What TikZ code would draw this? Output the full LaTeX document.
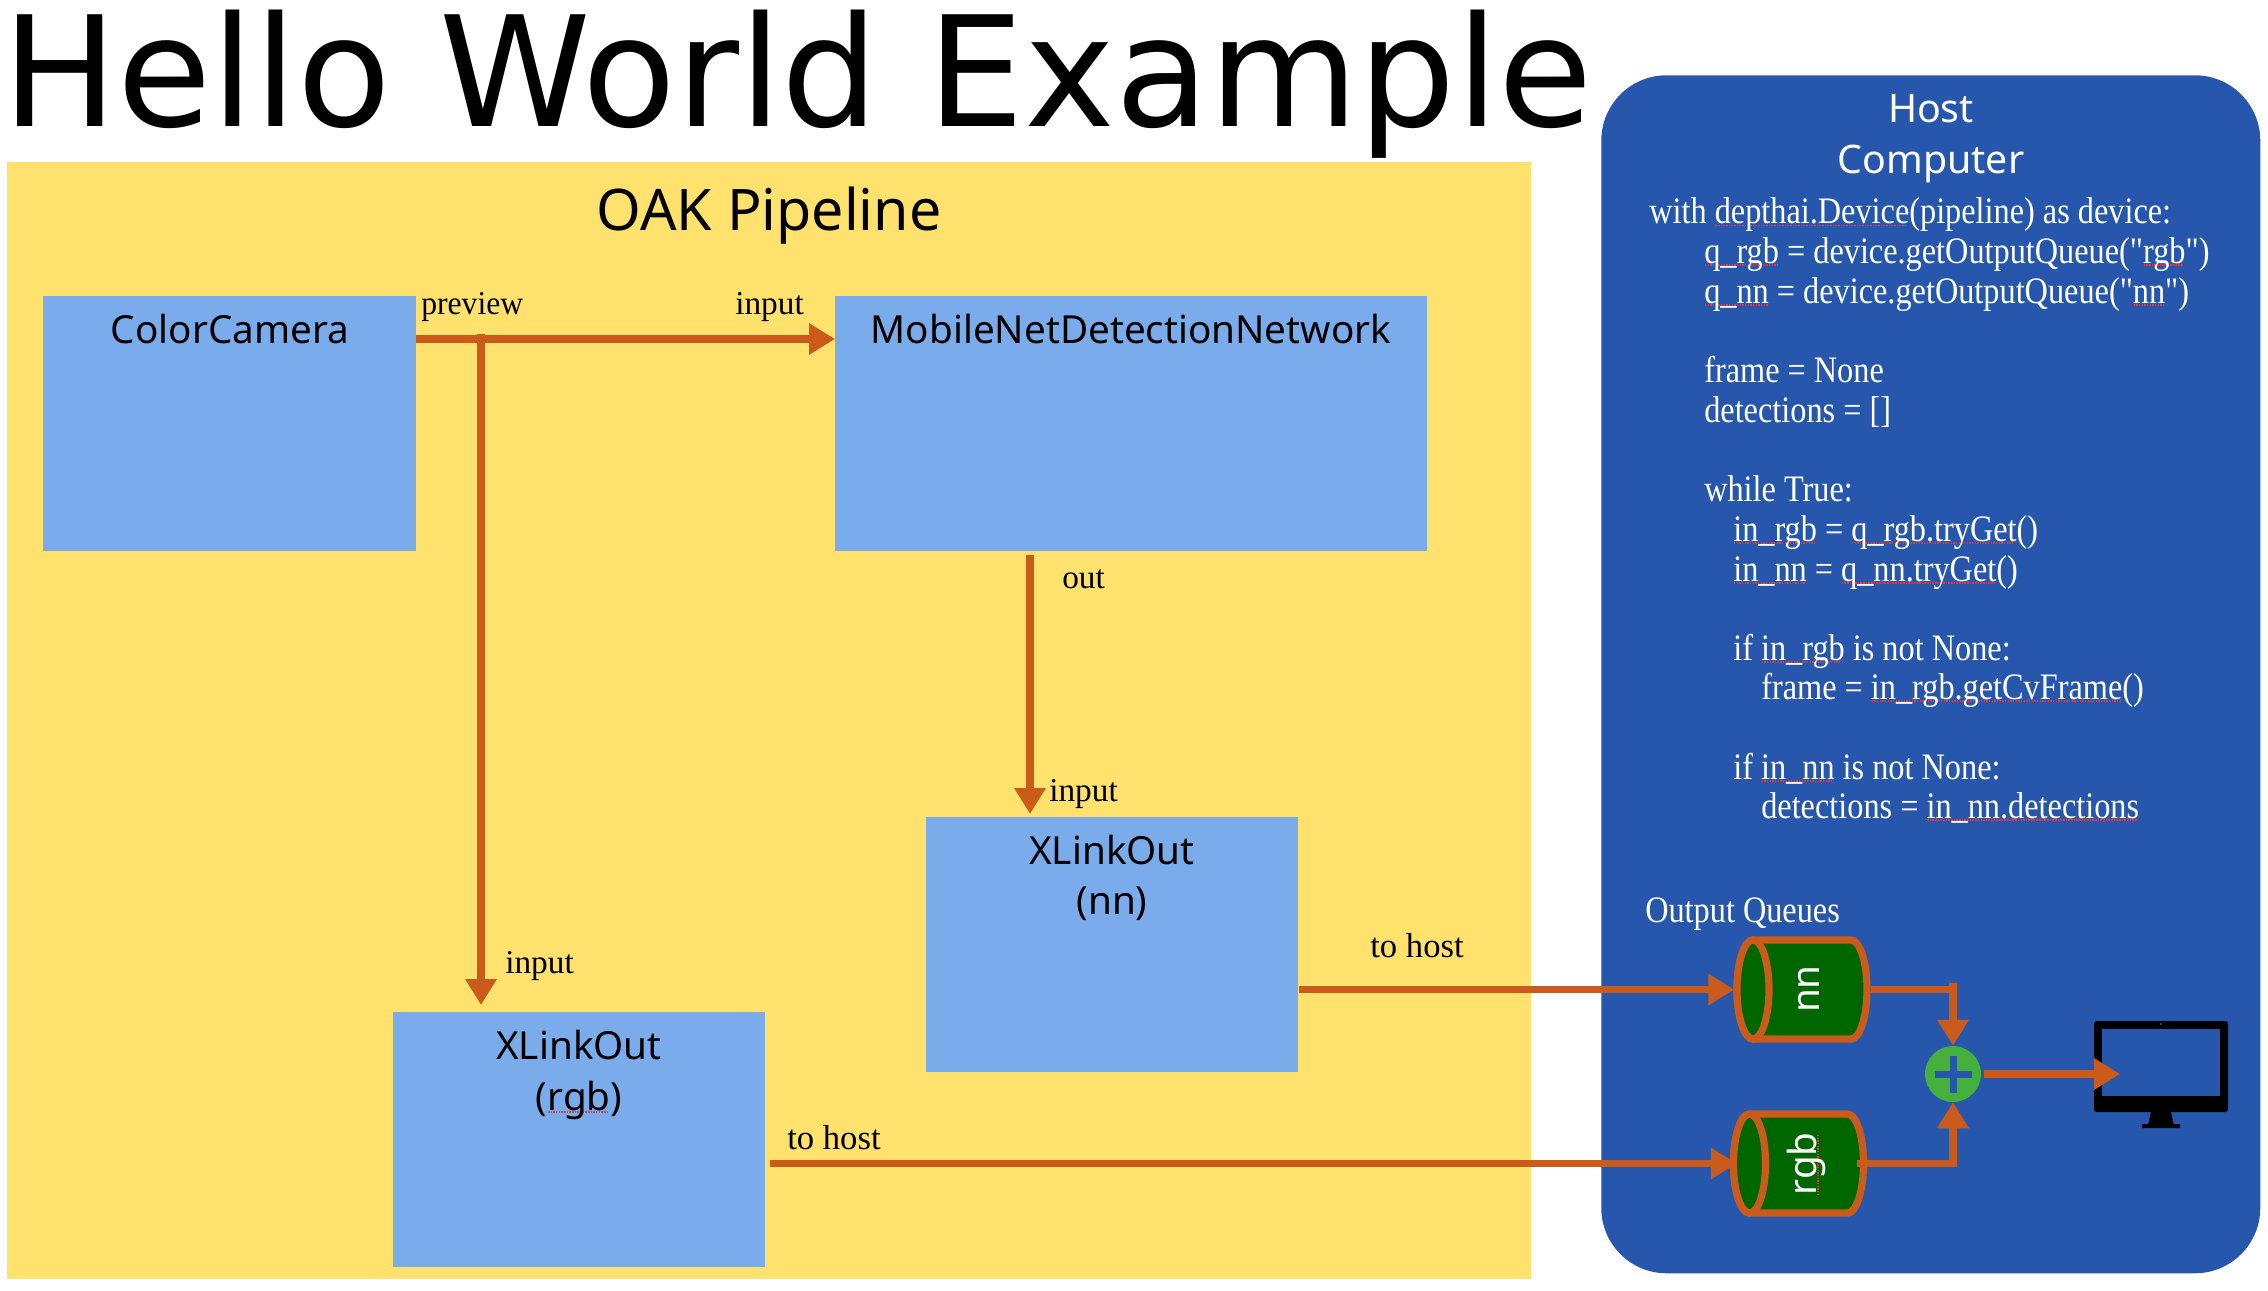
\documentclass[tikz,border=0pt]{standalone}
\usepackage{fontspec}
\usetikzlibrary{arrows.meta,calc}
\setmainfont{Liberation Serif}
\newfontfamily\titlefont{DejaVu Sans}
\newfontfamily\headfont{Noto Sans}
\newfontfamily\codefont[FakeStretch=0.865]{Liberation Serif}
\newfontfamily\labelfont{Liberation Serif}
\newfontfamily\labelnarrow[FakeStretch=0.95]{Liberation Serif}
\definecolor{panelyellow}{HTML}{FFE26E}
\definecolor{boxblue}{HTML}{7AABEB}
\definecolor{hostblue}{HTML}{2757AD}
\definecolor{wire}{HTML}{CA5B1B}
\definecolor{queuegreen}{HTML}{006600}
\definecolor{plusgreen}{HTML}{46B03C}
\definecolor{squiggle}{HTML}{E8383C}
\newcommand{\sq}[1]{\setbox0\hbox{#1}\rlap{\raisebox{-2pt}{\hbox to\wd0{\color{squiggle}\leaders\hbox to 2pt{\hss\rule{1.1pt}{1.1pt}\hss}\hfill}}}\box0{}}
\tikzset{
  x=0.75pt,y=-0.75pt,
  box/.style={fill=boxblue,draw=none,inner sep=0,minimum width=#1*0.75pt},
  box/.default=373,
  head/.style={anchor=base,font=\headfont\fontsize{29}{34}\selectfont,inner sep=0},
  code/.style={anchor=base west,text=white,inner sep=0,font=\codefont\fontsize{28}{32}\selectfont},
  lab/.style={anchor=base west,inner sep=0,font=\labelfont\fontsize{25}{30}\selectfont},
  wireline/.style={draw=wire,line width=5.6pt},
  arrowline/.style={wireline,-{Triangle[length=19.5pt,width=22.5pt]}},
  queue/.style={draw=wire,fill=queuegreen,line width=5.4pt},
  qlabel/.style={rotate=90,text=white,inner sep=0,font=\headfont\fontsize{29}{34}\selectfont},
  anchorbox/.style={inner sep=0,minimum width=135*0.75pt,minimum height=105*0.75pt}
}
\begin{document}
\begin{tikzpicture}
\useasboundingbox (0,0) rectangle (2268,1290);
% title
\node[anchor=base west,inner sep=0,font=\titlefont\fontsize{115}{130}\selectfont] (title) at (2,126) {Hello World Example};
% panels
\node[fill=panelyellow,inner sep=0,minimum width=1524*0.75pt,minimum height=1116.5*0.75pt,anchor=north west] (oak) at (7,162) {};
\node[fill=hostblue,inner sep=0,rounded corners=49pt,minimum width=659*0.75pt,minimum height=1198*0.75pt,anchor=north west] (host) at (1601,75) {};
\node[head,font=\headfont\fontsize{43}{50}\selectfont] (oaktitle) at (769,230) {OAK Pipeline};
\node[head,text=white,font=\headfont\fontsize{29.5}{36}\selectfont] (hosta) at (1931,122) {Host};
\node[head,text=white,font=\headfont\fontsize{29.5}{36}\selectfont] (hostb) at (1931,173) {Computer};
% boxes
\node[box,minimum height=255*0.75pt,anchor=north west] (cam) at (43,296) {};
\node[box=591.5,minimum height=255*0.75pt,anchor=north west] (mob) at (835,296) {};
\node[box=372,minimum height=255*0.75pt,anchor=north west] (xnn) at (926,817) {};
\node[box=372,minimum height=255*0.75pt,anchor=north west] (xrgb) at (393,1012) {};
\node[head] (camt) at (230,343) {ColorCamera};
\node[head] (mobt) at (1131,343) {MobileNetDetectionNetwork};
\node[head] (xnna) at (1112,864) {XLinkOut};
\node[head] (xnnb) at (1112,914) {(nn)};
\node[head] (xrgba) at (579,1059) {XLinkOut};
\node[head] (xrgbb) at (579,1110) {(\sq{rgb})};
% code
\node[code] (c0) at (1649,223.5) {with \sq{depthai.Device}(pipeline) as device:};
\node[code] (c1) at (1704,263) {\sq{q\_rgb} = device.getOutputQueue("\sq{rgb}")};
\node[code] (c2) at (1704,303) {\sq{q\_nn} = device.getOutputQueue("\sq{nn}")};
\node[code] (c3) at (1704,382) {frame = None};
\node[code] (c4) at (1704,422) {detections = []};
\node[code] (c5) at (1704,501) {while True:};
\node[code] (c6) at (1733,541) {\sq{in\_rgb} = \sq{q\_rgb.tryGet}()};
\node[code] (c7) at (1733,581) {\sq{in\_nn} = \sq{q\_nn.tryGet}()};
\node[code] (c8) at (1733,660) {if \sq{in\_rgb} is not None:};
\node[code] (c9) at (1761,699) {frame = \sq{in\_rgb.getCvFrame}()};
\node[code] (c10) at (1733,779) {if \sq{in\_nn} is not None:};
\node[code] (c11) at (1761,818) {detections = \sq{in\_nn.detections}};
\node[code] (oq) at (1645,922.5) {Output Queues};
% queues
\node[anchorbox] (qnn) at (1802,989.5) {};
\node[anchorbox] (qrgb) at (1798.5,1163.5) {};
\foreach \c in {qnn,qrgb}{
  \begin{scope}[shift={(\c.center)}]
    \draw[queue] (-49,-49.5) -- (49,-49.5) arc[start angle=-90,end angle=90,x radius=16,y radius=49.5] -- (-49,49.5) arc[start angle=90,end angle=270,x radius=16,y radius=49.5] -- cycle;
    \draw[queue] (-49,0) ellipse[x radius=16,y radius=49.5];
  \end{scope}
}
\node[qlabel] (qnnl) at (1809,989) {nn};
\node[qlabel] (qrgbl) at (1806,1164) {\sq{rgb}};
% sum
\node[circle,fill=plusgreen,inner sep=0,minimum size=56*0.75pt] (sum) at (1953,1074) {};
\fill[hostblue] ($(sum.center)+(-18.5,-3.5)$) rectangle ($(sum.center)+(18.5,3.5)$);
\fill[hostblue] ($(sum.center)+(-3.5,-18.5)$) rectangle ($(sum.center)+(3.5,18.5)$);
% monitor
\coordinate (mon) at (2161,1070);
\begin{scope}[shift={(mon)}]
  \fill[black,rounded corners=2pt] (-67,-49) rectangle (67,42);
  \fill[black] (-10,42) -- (10,42) -- (12.7,54) -- (19,54) -- (19,58) -- (-19,58) -- (-19,54) -- (-12.7,54) -- cycle;
  \fill[hostblue] (-59,-41) rectangle (59,26);
  \fill[hostblue] (0,-46) circle[radius=1.2];
\end{scope}
% connector anchors
\coordinate (camout) at ($(cam.north east)+(-1,43)$);
\coordinate (branch) at (481,334);
\coordinate (rgbin) at (481,1005);
\coordinate (mobout) at (1030,555);
\coordinate (nnin) at (1030,814);
\coordinate (xrgbout) at (770,1163.5);
\coordinate (qnnout) at (1871,989.5);
\coordinate (qrgbout) at (1857,1163.5);
\coordinate (sumout) at (1984,1074);
\coordinate (monin) at (2120,1074);
% connectors
\draw[arrowline] (camout) -- (mob.west |- camout);
\draw[arrowline] (branch) -- (rgbin);
\draw[arrowline] (mobout) -- (nnin);
\draw[arrowline] (xnn.east |- qnn.west) -- (qnn.west);
\draw[arrowline] (xrgbout) -- ($(qrgb.west)+(6,0)$);
\draw[wireline] (qnnout) -- (sum.north |- qnnout);
\draw[arrowline] ($(sum.north |- qnnout)+(0,-7)$) -- (sum.north);
\draw[wireline] (qrgbout) -- (sum.south |- qrgbout) ;
\draw[arrowline] ($(sum.south |- qrgbout)+(0,3.7)$) -- (sum.south);
\draw[arrowline] (sumout) -- (monin);
% labels
\node[lab,font=\labelnarrow\fontsize{25}{30}\selectfont] (l1) at (421,314) {preview};
\node[lab] (l2) at (735,314) {input};
\node[lab] (l3) at (1062,588.5) {out};
\node[lab] (l4) at (1049,801) {input};
\node[lab] (l5) at (505,973) {input};
\node[lab,font=\labelfont\fontsize{26}{30}\selectfont] (l6) at (1370,957) {to host};
\node[lab,font=\labelfont\fontsize{26}{30}\selectfont] (l7) at (787,1149.5) {to host};
\end{tikzpicture}
\end{document}
